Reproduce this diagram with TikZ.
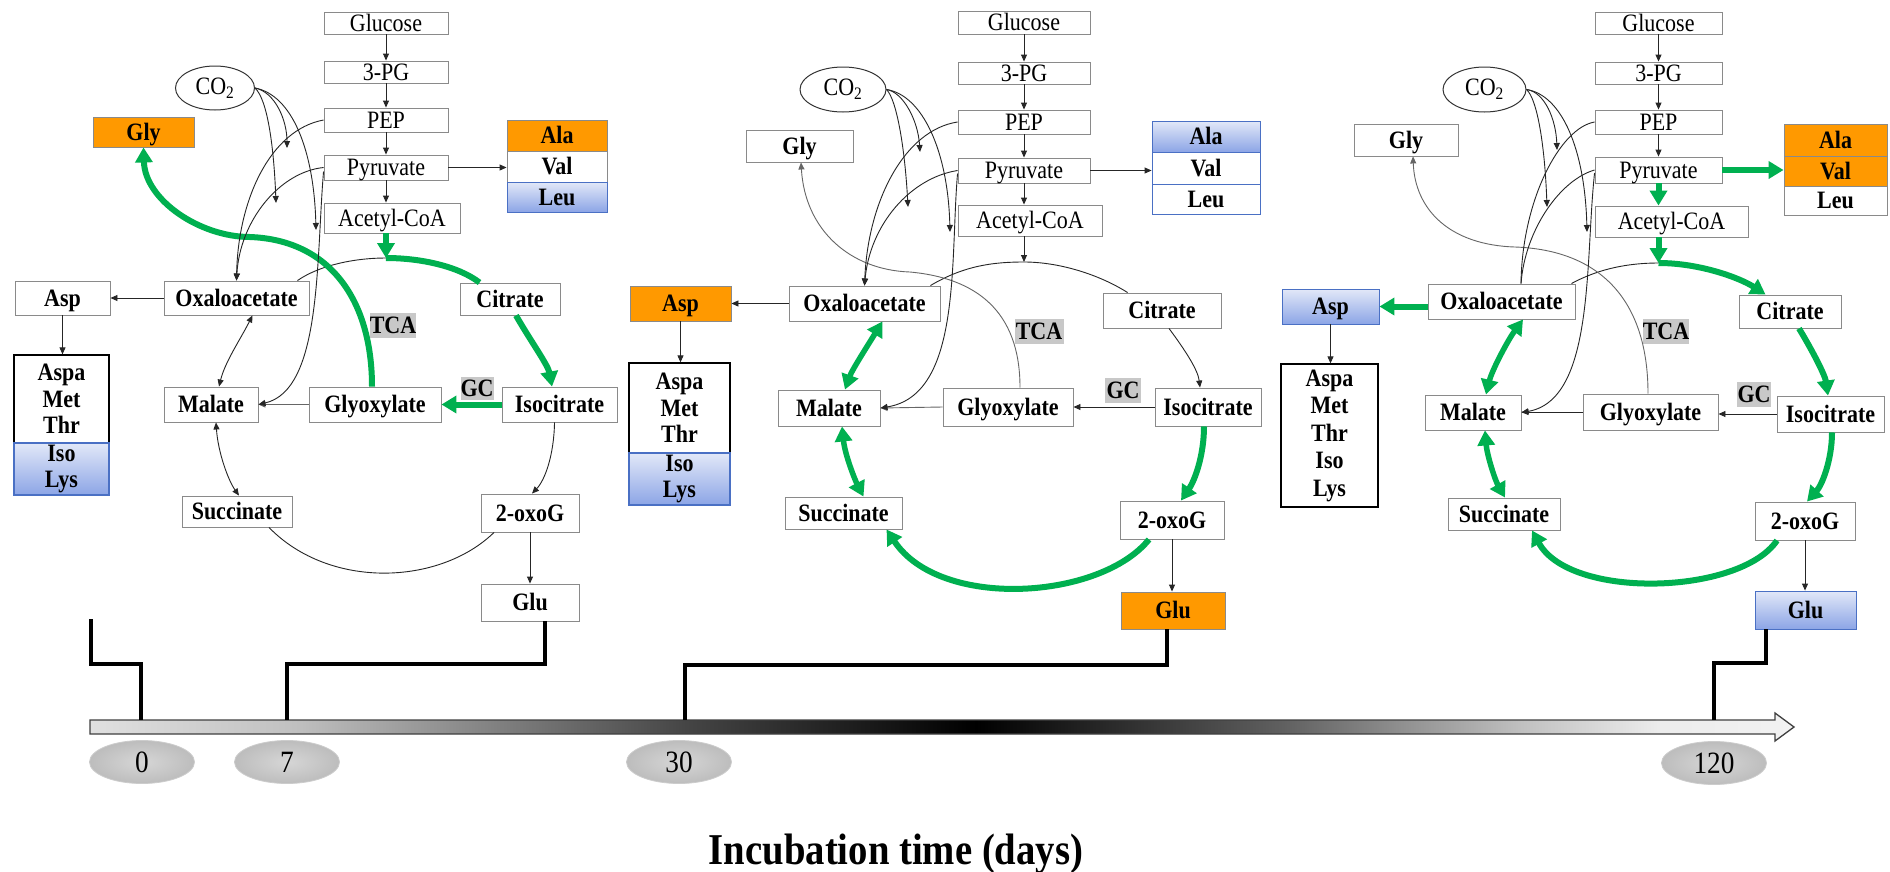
\documentclass[tikz,border=0pt]{standalone}
\usepackage{fontspec}
\setmainfont{Liberation Serif}[FakeStretch=0.88]
\usetikzlibrary{arrows.meta,shapes.geometric,calc}
\definecolor{myorange}{HTML}{FF9900}
\definecolor{mygreen}{HTML}{00B050}
\definecolor{bluetop}{HTML}{E2E8F8}
\definecolor{bluebot}{HTML}{8CA5E6}
\definecolor{blueedge}{HTML}{4A70C4}
\definecolor{labgray}{HTML}{C8C8C8}
\definecolor{boxedge}{HTML}{8A8A8A}
\definecolor{axA}{HTML}{E0E0E0}
\definecolor{axB}{HTML}{C0C0C0}
\definecolor{axC}{HTML}{454545}
\definecolor{axD}{HTML}{606060}
\definecolor{axE}{HTML}{ECECEC}
\definecolor{axF}{HTML}{F2F2F2}
\pgfdeclarehorizontalshading{axisgrad}{100bp}{color(0bp)=(axA); color(25bp)=(axA); color(31bp)=(axB); color(42.5bp)=(axC); color(51bp)=(black); color(60bp)=(axD); color(67bp)=(axB); color(71bp)=(axE); color(75bp)=(axF); color(100bp)=(axF)}
\tikzset{
 bx/.style={draw=boxedge, line width=0.9pt, fill=white, inner sep=0pt, text height=16.5pt, text depth=0pt, font=\fontsize{25}{27}\selectfont\bfseries},
 tb/.style={bx, font=\fontsize{25}{27}\selectfont},
 org/.style={fill=myorange},
 blu/.style={top color=bluetop, bottom color=bluebot, draw=blueedge},
 stk/.style={draw=black, line width=1.3pt, fill=white, inner sep=0pt, align=center, font=\fontsize{25}{26.5}\selectfont\bfseries},
 lab/.style={fill=labgray, inner sep=0pt, text height=16.5pt, text depth=0pt, font=\fontsize{25}{27}\selectfont\bfseries},
 co2/.style={ellipse, draw=black!80, line width=1pt, fill=white, inner sep=0pt, font=\fontsize{25}{27}\selectfont},
 ar/.style={draw=black!85, line width=0.9pt, -{Triangle[length=7pt,width=6pt]}},
 dar/.style={draw=black!85, line width=0.9pt, {Triangle[length=7pt,width=6pt]}-{Triangle[length=7pt,width=6pt]}},
 ln/.style={draw=black!85, line width=0.9pt},
 gar/.style={draw=mygreen, line width=6pt, -{Triangle[length=15pt,width=17pt]}},
 gdar/.style={draw=mygreen, line width=5.5pt, {Triangle[length=15pt,width=17pt]}-{Triangle[length=15pt,width=17pt]}},
 gln/.style={draw=mygreen, line width=6pt},
 stepln/.style={line width=4pt, draw=black, line join=miter},
 day/.style={ellipse, minimum width=105pt, minimum height=43pt, inner sep=0pt, inner color=gray!32, outer color=gray!52, draw=black!20, line width=0.8pt, font=\fontsize{31}{31}\selectfont}
}
\begin{document}
\begin{tikzpicture}[x=1pt, y=-1pt]
\fill[white] (0,0) rectangle (1890,871);
\useasboundingbox (0,0) rectangle (1890,871);

% ================= Panel 1 =================
\node[tb, minimum width=124pt, minimum height=22pt] (aGlc) at (386,23) {Glucose};
\node[tb, minimum width=124pt, minimum height=22pt] (a3pg) at (386,72) {3-PG};
\node[tb, minimum width=124pt, minimum height=24pt] (aPEP) at (386,120) {PEP};
\node[tb, minimum width=124pt, minimum height=25pt] (aPyr) at (386,167.5) {Pyruvate};
\node[tb, minimum width=136pt, minimum height=30pt] (aAcc) at (392,218) {Acetyl-CoA};
\node[co2, minimum width=79pt, minimum height=44pt] (aCO2) at (215,88) {CO\textsubscript{2}};
\node[bx, org, minimum width=101pt, minimum height=30pt] (aGly) at (143.5,132) {Gly};
\node[bx, org, minimum width=100pt, minimum height=31pt] (aAla) at (557,135.5) {Ala};
\node[bx, minimum width=100pt, minimum height=31pt] (aVal) at (557,166.5) {Val};
\node[bx, blu, minimum width=100pt, minimum height=30pt] (aLeu) at (557,197) {Leu};
\node[bx, minimum width=95pt, minimum height=34pt] (aAsp) at (62.5,298) {Asp};
\node[bx, minimum width=145pt, minimum height=34pt] (aOxa) at (236.5,298) {Oxaloacetate};
\node[bx, minimum width=100pt, minimum height=32pt] (aCit) at (510,299) {Citrate};
\node[lab, minimum width=46pt, minimum height=25pt] (aTCA) at (393,325.5) {TCA};
\node[stk, minimum width=95pt, minimum height=88pt] (aAA) at (61.5,399) {Aspa\\Met\\Thr};
\node[stk, blu, minimum width=95pt, minimum height=52pt] (aIL) at (61.5,469) {Iso\\Lys};
\node[bx, minimum width=94pt, minimum height=35pt] (aMal) at (211,404.5) {Malate};
\node[bx, minimum width=132pt, minimum height=35pt] (aGlx) at (375,404.5) {Glyoxylate};
\node[lab, minimum width=32pt, minimum height=23pt] (aGC) at (477,388.5) {GC};
\node[bx, minimum width=115pt, minimum height=35pt] (aIso) at (559.5,404.5) {Isocitrate};
\node[bx, minimum width=110pt, minimum height=31pt] (aSuc) at (237,511.5) {Succinate};
\node[bx, minimum width=98pt, minimum height=38pt] (aOxg) at (530,513) {2-oxoG};
\node[bx, minimum width=98pt, minimum height=37pt] (aGlu) at (530,602.5) {Glu};

\draw[ar] (aGlc) -- (a3pg);
\draw[ar] (a3pg) -- (aPEP);
\draw[ar] (aPEP) -- (aPyr);
\draw[ar] (aPyr.south) -- (aPyr.south |- aAcc.north);
\draw[ar] (aPyr.east) -- (aPyr.east -| aVal.west);
\draw[ar] (aOxa.west) -- (aAsp.east);
\draw[ar] (aAsp.south) -- (aAsp.south |- aAA.north);
\draw[ar, draw=black!60] (aGlx.west) -- (aMal.east);
\draw[ar] (aOxg.south) -- (aOxg.south |- aGlu.north);
\draw[ar] ([xshift=-5]aIso.south) .. controls (554,455) and (545,480) .. ([xshift=2]aOxg.north);
\draw[dar] ([xshift=16]aOxa.south) .. controls (240,340) and (225,362) .. ([xshift=8]aMal.north);
\draw[dar] ([xshift=5]aMal.south) .. controls (218,452) and (228,480) .. ([xshift=2]aSuc.north);
\draw[ln] ([xshift=-36]aOxg.south) .. controls (440,585) and (330,590) .. ([xshift=32]aSuc.south);
\coordinate (aTop) at (386,258);
\draw[ln] ([xshift=-12]aOxa.north east) .. controls (320,265) and (355,258) .. (aTop);
\draw[gln] (aTop) .. controls (420,258) and (458,266) .. ([xshift=20]aCit.north west);
\draw[gar] ([xshift=-6]aAcc.south) -- (aTop);
\draw[gar] ([xshift=6]aCit.south) .. controls (530,340) and (548,365) .. ([xshift=-7.5]aIso.north);
\draw[gar] (aIso.west) -- (aGlx.east);
\draw[gar] ([xshift=-3]aGlx.north) .. controls (372,300) and (330,240) .. (250,237) .. controls (200,237) and (145,200) .. (aGly.south);
\coordinate (aC1) at (287,148);
\coordinate (aC2) at (276,203);
\coordinate (aC3) at (316,230);
\draw[ar] (aCO2.east) .. controls (275,92) and (287,120) .. (aC1);
\draw[ar] (aCO2.east) .. controls (268,100) and (274,150) .. (aC2);
\draw[ar] (aCO2.east) .. controls (292,95) and (314,150) .. (aC3);
\draw[ar] (aPEP.west) .. controls (270,130) and (238,200) .. (aOxa.north);
\draw[ar] (aPyr.west) .. controls (280,172) and (240,220) .. (aOxa.north);
\draw[ar] ([yshift=-4]aPyr.west) .. controls (316,260) and (322,390) .. (aMal.east);

% ================= Panel 2 =================
\node[tb, minimum width=132pt, minimum height=23pt] (bGlc) at (1024,22.5) {Glucose};
\node[tb, minimum width=132pt, minimum height=22pt] (b3pg) at (1024,73) {3-PG};
\node[tb, minimum width=132pt, minimum height=24pt] (bPEP) at (1024,122) {PEP};
\node[tb, minimum width=132pt, minimum height=25pt] (bPyr) at (1024,170.5) {Pyruvate};
\node[tb, minimum width=144pt, minimum height=31pt] (bAcc) at (1030,220.5) {Acetyl-CoA};
\node[co2, minimum width=86pt, minimum height=45pt] (bCO2) at (843,89.5) {CO\textsubscript{2}};
\node[bx, minimum width=107pt, minimum height=32pt] (bGly) at (799.5,146) {Gly};
\node[bx, blu, minimum width=108pt, minimum height=31pt] (bAla) at (1206,136.5) {Ala};
\node[bx, draw=blueedge, minimum width=108pt, minimum height=32pt] (bVal) at (1206,168) {Val};
\node[bx, draw=blueedge, minimum width=108pt, minimum height=30pt] (bLeu) at (1206,199) {Leu};
\node[bx, org, minimum width=101pt, minimum height=35pt] (bAsp) at (680.5,303.5) {Asp};
\node[bx, minimum width=151pt, minimum height=35pt] (bOxa) at (864.5,303.5) {Oxaloacetate};
\node[bx, minimum width=118pt, minimum height=35pt] (bCit) at (1162,310.5) {Citrate};
\node[lab, minimum width=49pt, minimum height=25pt] (bTCA) at (1039,331) {TCA};
\node[stk, minimum width=101pt, minimum height=90pt] (bAA) at (679.5,408) {Aspa\\Met\\Thr};
\node[stk, blu, minimum width=101pt, minimum height=52pt] (bIL) at (679.5,479) {Iso\\Lys};
\node[bx, minimum width=102pt, minimum height=36pt] (bMal) at (829,408) {Malate};
\node[bx, minimum width=130pt, minimum height=38pt] (bGlx) at (1008,407) {Glyoxylate};
\node[lab, minimum width=36pt, minimum height=25pt] (bGC) at (1123,390.5) {GC};
\node[bx, minimum width=106pt, minimum height=38pt] (bIso) at (1208,407) {Isocitrate};
\node[bx, minimum width=117pt, minimum height=32pt] (bSuc) at (843.5,513) {Succinate};
\node[bx, minimum width=104pt, minimum height=38pt] (bOxg) at (1172,520) {2-oxoG};
\node[bx, org, minimum width=104pt, minimum height=37pt] (bGlu) at (1173,610.5) {Glu};

\draw[ar] (bGlc) -- (b3pg);
\draw[ar] (b3pg) -- (bPEP);
\draw[ar] (bPEP) -- (bPyr);
\draw[ar] (bPyr.south) -- (bPyr.south |- bAcc.north);
\draw[ar] (bPyr.east) -- (bPyr.east -| bVal.west);
\coordinate (bTop) at (1024,262);
\draw[ar] ([xshift=-6]bAcc.south) -- (bTop);
\draw[ln] ([xshift=-10]bOxa.north east) .. controls (965,265) and (995,262) .. (bTop) .. controls (1060,262) and (1100,275) .. ([xshift=25]bCit.north west);
\draw[ar] ([xshift=7]bCit.south) .. controls (1185,350) and (1198,370) .. ([xshift=-8]bIso.north);
\draw[ar] (bIso.west) -- (bGlx.east);
\draw[ar, draw=black!60] (bGlx.west) -- (bMal.east);
\draw[ar] (bOxa.west) -- (bAsp.east);
\draw[ar] (bAsp.south) -- (bAsp.south |- bAA.north);
\draw[ar] (bOxg.south) -- (bOxg.south |- bGlu.north);
\draw[gdar] ([xshift=18]bOxa.south) .. controls (868,345) and (852,370) .. ([xshift=16]bMal.north);
\draw[gdar] ([xshift=13]bMal.south) .. controls (845,455) and (855,480) .. ([xshift=20]bSuc.north);
\draw[gar] ([xshift=-4]bIso.south) .. controls (1204,455) and (1195,480) .. ([xshift=9]bOxg.north);
\draw[gar] ([xshift=-23]bOxg.south) .. controls (1100,600) and (940,610) .. ([xshift=43]bSuc.south);
\draw[ar, draw=black!60] ([xshift=12]bGlx.north) .. controls (1020,310) and (975,278) .. (910,272) .. controls (850,270) and (805,230) .. ([xshift=1.5]bGly.south);
\draw[ar] ([yshift=-3]bPyr.west) .. controls (950,260) and (962,395) .. (bMal.east);
\draw[ar] (bPEP.west) .. controls (905,130) and (868,200) .. (bOxa.north);
\draw[ar] (bPyr.west) .. controls (910,178) and (870,225) .. (bOxa.north);
\coordinate (bC1) at (920,152);
\coordinate (bC2) at (908,207);
\coordinate (bC3) at (950,232);
\draw[ar] (bCO2.east) .. controls (903,92) and (918,120) .. (bC1);
\draw[ar] (bCO2.east) .. controls (897,100) and (905,150) .. (bC2);
\draw[ar] (bCO2.east) .. controls (922,95) and (948,150) .. (bC3);

% ================= Panel 3 =================
\node[tb, minimum width=127pt, minimum height=22pt] (cGlc) at (1658.5,23) {Glucose};
\node[tb, minimum width=127pt, minimum height=22pt] (c3pg) at (1658.5,73) {3-PG};
\node[tb, minimum width=127pt, minimum height=24pt] (cPEP) at (1658.5,122) {PEP};
\node[tb, minimum width=127pt, minimum height=26pt] (cPyr) at (1658.5,170) {Pyruvate};
\node[tb, minimum width=153pt, minimum height=31pt] (cAcc) at (1671.5,221.5) {Acetyl-CoA};
\node[co2, minimum width=83pt, minimum height=45pt] (cCO2) at (1484.5,89.5) {CO\textsubscript{2}};
\node[bx, minimum width=104pt, minimum height=32pt] (cGly) at (1406,140) {Gly};
\node[bx, org, minimum width=103pt, minimum height=32pt] (cAla) at (1835.5,140) {Ala};
\node[bx, org, minimum width=103pt, minimum height=30pt] (cVal) at (1835.5,171) {Val};
\node[bx, minimum width=103pt, minimum height=29pt] (cLeu) at (1835.5,200.5) {Leu};
\node[bx, blu, minimum width=97pt, minimum height=35pt] (cAsp) at (1330.5,306.5) {Asp};
\node[bx, minimum width=147pt, minimum height=35pt] (cOxa) at (1501.5,301.5) {Oxaloacetate};
\node[bx, minimum width=102pt, minimum height=33pt] (cCit) at (1790,311.5) {Citrate};
\node[lab, minimum width=46pt, minimum height=25pt] (cTCA) at (1666,331) {TCA};
\node[stk, font=\fontsize{25}{27.5}\selectfont\bfseries, minimum width=97pt, minimum height=143pt] (cAA) at (1329.5,435.5) {Aspa\\Met\\Thr\\Iso\\Lys};
\node[bx, minimum width=96pt, minimum height=35pt] (cMal) at (1473,412.5) {Malate};
\node[bx, minimum width=135pt, minimum height=36pt] (cGlx) at (1650.5,412) {Glyoxylate};
\node[lab, minimum width=34pt, minimum height=25pt] (cGC) at (1754,394.5) {GC};
\node[bx, minimum width=107pt, minimum height=36pt] (cIso) at (1830.5,414) {Isocitrate};
\node[bx, minimum width=112pt, minimum height=32pt] (cSuc) at (1504,514) {Succinate};
\node[bx, minimum width=100pt, minimum height=38pt] (cOxg) at (1805,521) {2-oxoG};
\node[bx, blu, minimum width=101pt, minimum height=38pt] (cGlu) at (1805.5,610) {Glu};

\draw[ar] (cGlc) -- (c3pg);
\draw[ar] (c3pg) -- (cPEP);
\draw[ar] (cPEP) -- (cPyr);
\draw[gar] (cPyr.south) -- (cPyr.south |- cAcc.north);
\draw[gar] (cPyr.east) -- (cPyr.east -| cVal.west);
\coordinate (cTop) at (1658.5,263);
\draw[gar] ([xshift=-13]cAcc.south) -- (cTop);
\draw[ln] ([xshift=-4]cOxa.north east) .. controls (1600,268) and (1630,263) .. (cTop);
\draw[gar] (cTop) .. controls (1700,263) and (1740,278) .. ([xshift=27]cCit.north west);
\draw[gar] ([xshift=9]cCit.south) .. controls (1812,350) and (1825,375) .. ([xshift=-2.5]cIso.north);
\draw[gar] ([xshift=1.5]cIso.south) .. controls (1832,460) and (1822,485) .. ([xshift=2]cOxg.north);
\draw[gar] ([xshift=-28]cOxg.south) .. controls (1740,595) and (1570,600) .. ([xshift=28]cSuc.south);
\draw[gdar] ([xshift=12]cMal.south) .. controls (1487,455) and (1495,480) .. ([xshift=1]cSuc.north);
\draw[gdar] ([xshift=21.5]cOxa.south) .. controls (1508,340) and (1492,370) .. ([xshift=13]cMal.north);
\draw[gar] ([yshift=-5]cOxa.west) -- (cAsp.east);
\draw[ar] (cIso.west) -- (cIso.west -| cGlx.east);
\draw[ar] (cGlx.west) -- (cGlx.west -| cMal.east);
\draw[ar] (cOxg.south) -- (cOxg.south |- cGlu.north);
\draw[ar] (cAsp.south) -- (cAsp.south |- cAA.north);
\draw[ar, draw=black!60] ([xshift=-2.5]cGlx.north) .. controls (1648,300) and (1600,250) .. (1515,247) .. controls (1450,245) and (1415,210) .. ([xshift=7]cGly.south);
\draw[ar] ([yshift=-3]cPyr.west) .. controls (1585,260) and (1595,400) .. (cMal.east);
\draw[ln] (cPEP.west) .. controls (1560,128) and (1522,200) .. ([xshift=19.5]cOxa.north);
\draw[ln] (cPyr.west) .. controls (1560,180) and (1525,230) .. ([xshift=19.5]cOxa.north);
\coordinate (cC1) at (1557,150);
\coordinate (cC2) at (1547,207);
\coordinate (cC3) at (1587,232);
\draw[ar] (cCO2.east) .. controls (1545,92) and (1556,120) .. (cC1);
\draw[ar] (cCO2.east) .. controls (1538,100) and (1545,150) .. (cC2);
\draw[ar] (cCO2.east) .. controls (1562,95) and (1585,150) .. (cC3);

% ================= Timeline =================
\shade[shading=axisgrad] (90,720) -- (1775,720) -- (1775,713) -- (1794,727) -- (1775,741) -- (1775,734) -- (90,734) -- cycle;
\draw[line width=1.3pt, draw=black!75, line join=miter] (90,720) -- (1775,720) -- (1775,713) -- (1794,727) -- (1775,741) -- (1775,734) -- (90,734) -- cycle;
\coordinate (t0) at (141,720);
\coordinate (t7) at (287,720);
\coordinate (t30) at (685,720);
\coordinate (t120) at (1714,720);
\coordinate (s0) at (91,619);
\draw[stepln] (s0) -- (91,664) -- (141,664) -- (t0);
\draw[stepln] ([xshift=15]aGlu.south) -- (545,664) -- (287,664) -- (t7);
\draw[stepln] ([xshift=-6]bGlu.south) -- (1167,665) -- (685,665) -- (t30);
\draw[stepln] ([xshift=-40]cGlu.south) -- (1765.5,663) -- (1714,663) -- (t120);
\node[day] (d0) at (142,762) {0};
\node[day] (d7) at (287,762) {7};
\node[day] (d30) at (679,762) {30};
\node[day] (d120) at (1714,763) {120};
\node[font=\fontsize{44}{44}\selectfont\bfseries, anchor=base, inner sep=0pt] (ttl) at (896,864) {Incubation time (days)};
\end{tikzpicture}
\end{document}
